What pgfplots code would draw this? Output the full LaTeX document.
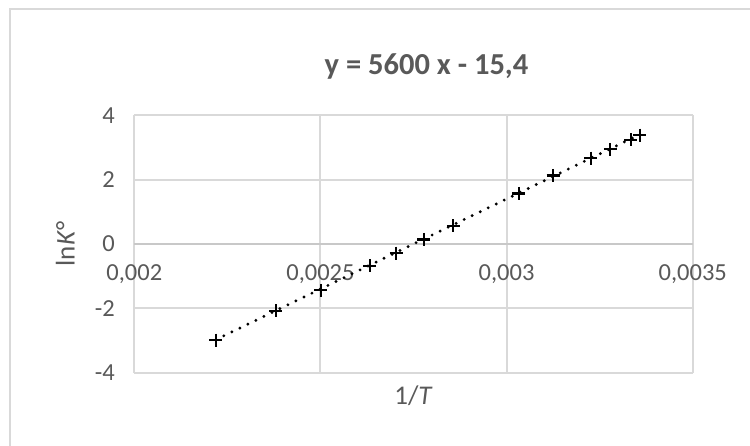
\documentclass[border=0pt]{standalone}
\usepackage{pgfplots}
\pgfplotsset{compat=1.18}
\usepackage{fontspec}
\setmainfont{Carlito}
\definecolor{txt}{HTML}{595959}
\definecolor{gridc}{HTML}{D9D9D9}
\definecolor{zeroc}{HTML}{C8C8C8}
\newcommand{\tf}{\fontsize{24.5bp}{29bp}\selectfont}

\begin{document}
\begin{tikzpicture}[x=1bp,y=1bp]
  \path[use as bounding box] (0,0) rectangle (750,446);
  % chart area frame (left and top edges)
  \draw[gridc, line width=2.6bp] (10,0) -- (10,437) -- (760,437);
  \begin{axis}[
    at={(134.3bp,73.3bp)}, anchor=south west,
    scale only axis,
    width=558.4bp, height=257.4bp,
    xmin=0.002, xmax=0.0035,
    ymin=-4, ymax=4,
    xtick={0.002,0.0025,0.003,0.0035},
    xticklabels={{\tf 0,002},{\tf 0,0025},{\tf 0,003},{\tf 0,0035}},
    ytick={-4,-2,0,2,4},
    yticklabels={{\tf -4},{\tf -2},{\tf 0},{\tf 2},{\tf 4}},
    scaled x ticks=false,
    axis line style={draw=none},
    major tick length=0pt,
    grid=major,
    grid style={gridc, line width=1.9bp},
    extra y ticks={0},
    extra y tick labels={},
    extra y tick style={grid style={zeroc, line width=1.9bp}},
    tick label style={text=txt},
    xticklabel style={yshift=112bp},
    yticklabel style={xshift=-16bp},
    title={y = 5600 x - 15,4},
    title style={at={(rel axis cs:0.5,1)}, anchor=center, xshift=13bp, yshift=43bp,
                 font=\fontsize{30.5bp}{35bp}\selectfont\bfseries, text=txt},
    xlabel={1/\textit{T}},
    ylabel={ln\textit{K}°},
    every axis x label/.style={at={(rel axis cs:0.5,0)}, anchor=center, yshift=-23bp,
                 font=\fontsize{27bp}{32bp}\selectfont, text=txt},
    every axis y label/.style={at={(rel axis cs:0,0.5)}, anchor=center, xshift=-69bp, rotate=90,
                 font=\fontsize{27bp}{32bp}\selectfont, text=txt},
    clip=false,
  ]
    % linear trendline
    \addplot[black, line width=3.2bp, line cap=round, dash pattern=on 0pt off 8.9bp]
      coordinates {(0.002219,-2.974) (0.003358,3.405)};
    % measured points
    \addplot[only marks, mark=+, mark size=6.5bp, mark options={line width=2.1bp}, black]
      coordinates {
        (0.002219,-2.99)
        (0.002380,-2.08)
        (0.0025005,-1.44)
        (0.002633,-0.68)
        (0.002703,-0.28)
        (0.002778,0.14)
        (0.002857,0.57)
        (0.003033,1.57)
        (0.003125,2.13)
        (0.003226,2.67)
        (0.003279,2.94)
        (0.003334,3.24)
        (0.003358,3.38)
      };
  \end{axis}
\end{tikzpicture}
\end{document}
